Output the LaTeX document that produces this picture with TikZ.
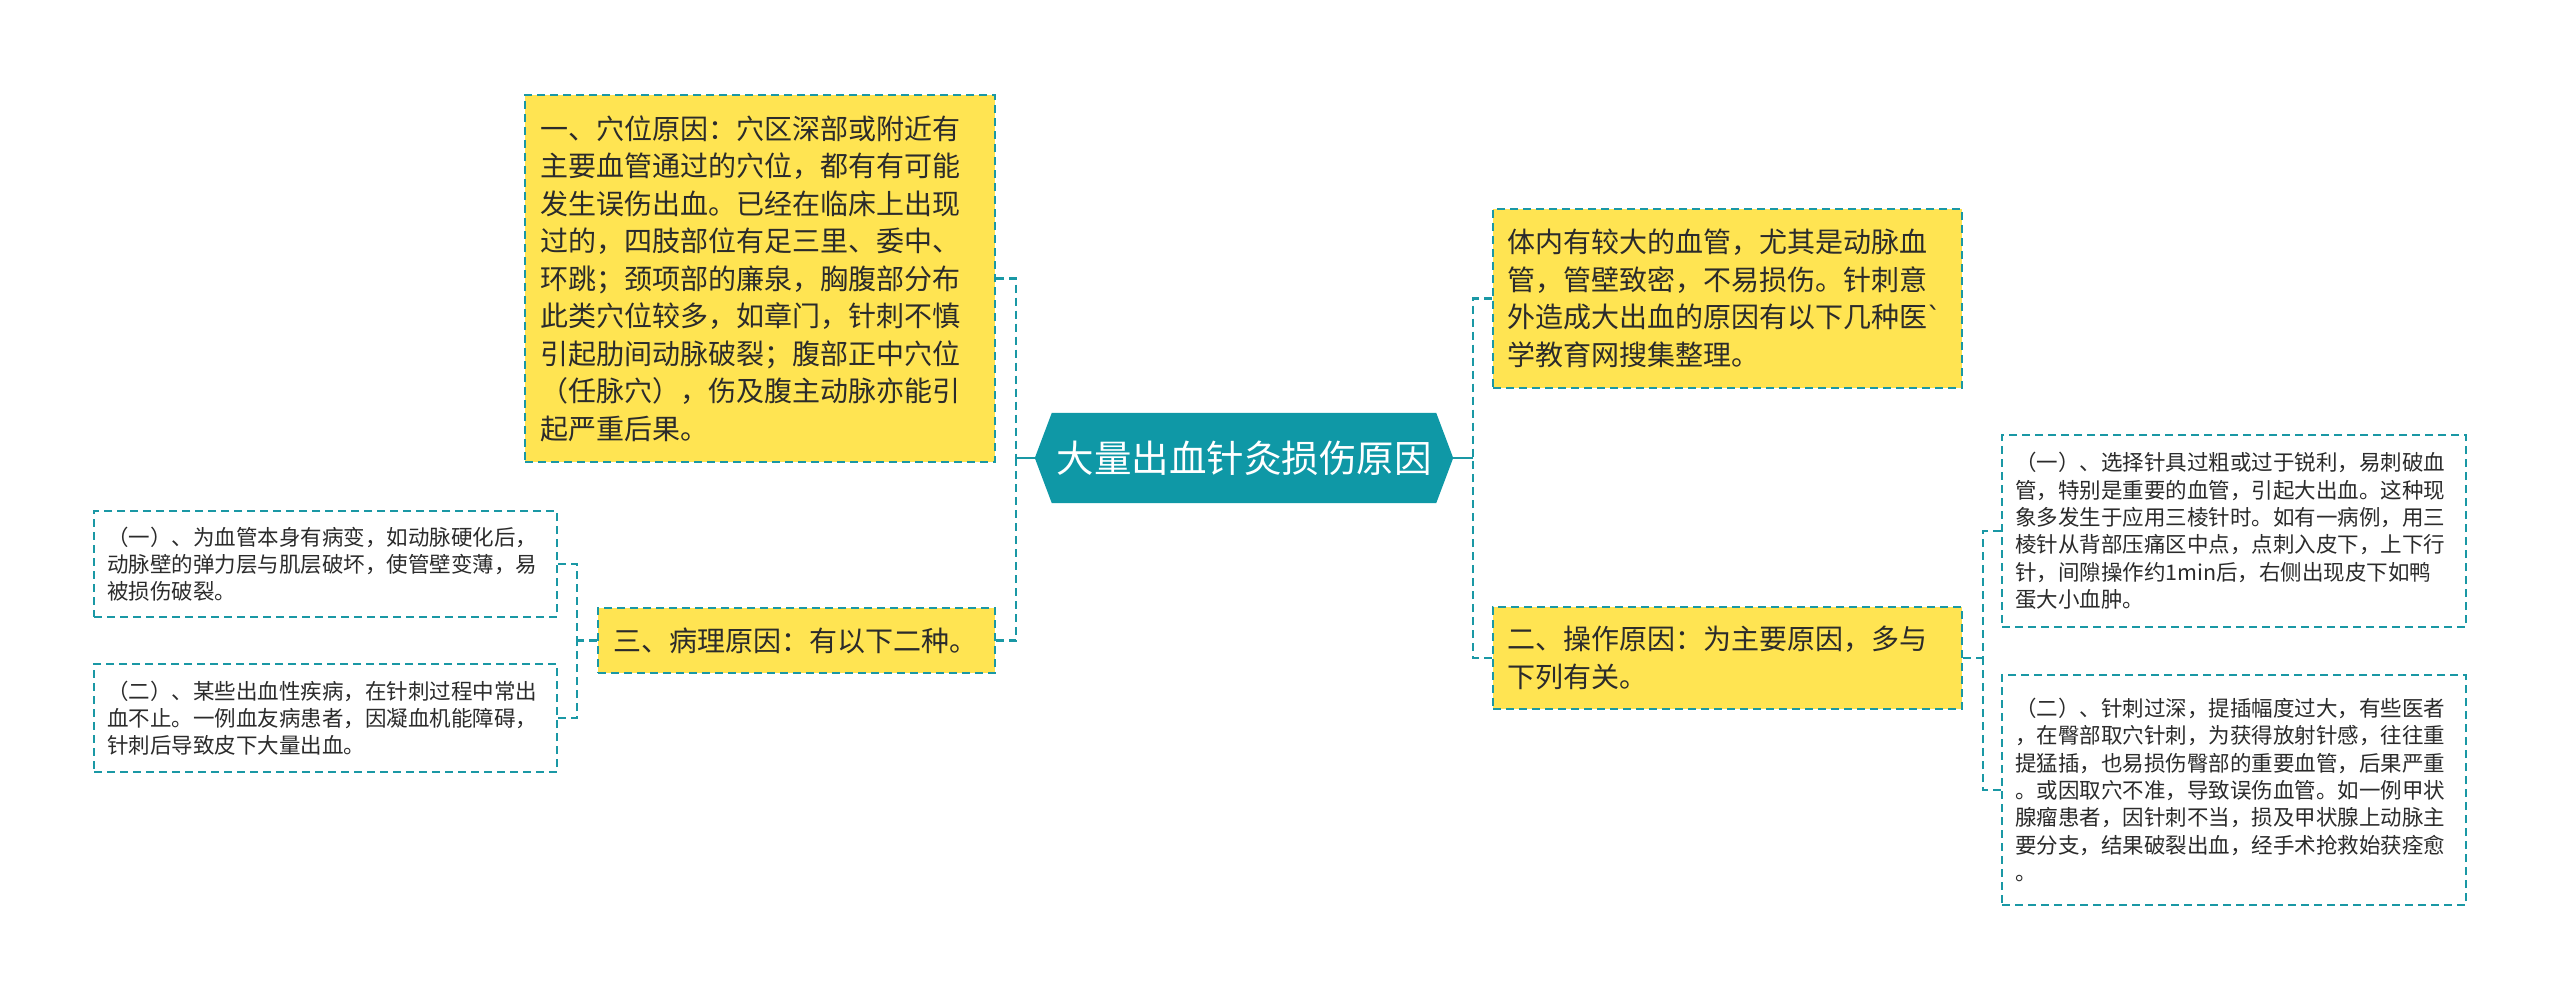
\documentclass[tikz,border=0pt]{standalone}
\usepackage{fontspec}
\setmainfont{Noto Sans CJK SC}
\newfontfamily\gravefont{DejaVu Sans}
\definecolor{teal1}{HTML}{1A98A5}
\definecolor{hexfill}{HTML}{0F98A6}
\definecolor{yel}{HTML}{FFE452}
\definecolor{txt}{HTML}{2B2B2B}
\tikzset{
  x=1pt, y=-1pt,
  conn/.style={draw=teal1, line width=2.6pt, dash pattern=on 8pt off 5pt},
  bigbox/.style={draw=teal1, line width=2pt, dash pattern=on 8pt off 5pt, fill=yel, text=txt,
    align=left, inner sep=0pt, font=\fontsize{28}{37.5}\selectfont},
  smallbox/.style={draw=teal1, line width=2pt, dash pattern=on 8pt off 5pt, fill=white, text=txt,
    align=left, inner sep=0pt, font=\fontsize{21.5}{27.3}\selectfont},
}
\begin{document}
\begin{tikzpicture}
\useasboundingbox (0,0) rectangle (2560,990);
\fill[white] (0,0) rectangle (2560,990);

% root
\node[minimum width=418pt, minimum height=90pt, inner sep=0pt] (root) at (1244,458) {};
\fill[hexfill] (root.west) -- ([xshift=17pt]root.north west) -- ([xshift=-17pt]root.north east)
  -- (root.east) -- ([xshift=-17pt]root.south east) -- ([xshift=17pt]root.south west) -- cycle;
\node[text=white, font=\fontsize{37.5}{40}\selectfont] (roottext) at (root.center) {大量出血针灸损伤原因};

% left branches
\node[bigbox, minimum width=470pt, minimum height=367pt, text width=440pt] (b1) at (760,278.5)
{一、穴位原因：穴区深部或附近有\\主要血管通过的穴位，都有有可能\\发生误伤出血。已经在临床上出现\\过的，四肢部位有足三里、委中、\\环跳；颈项部的廉泉，胸腹部分布\\此类穴位较多，如章门，针刺不慎\\引起肋间动脉破裂；腹部正中穴位\\（任脉穴），伤及腹主动脉亦能引\\起严重后果。};
\node[bigbox, minimum width=397pt, minimum height=65pt, text width=367pt] (b3) at (796.5,640.5)
{三、病理原因：有以下二种。};

\node[smallbox, minimum width=463pt, minimum height=106pt, text width=437pt] (l1) at (325.5,564)
{（一）、为血管本身有病变，如动脉硬化后，\\动脉壁的弹力层与肌层破坏，使管壁变薄，易\\被损伤破裂。};
\node[smallbox, minimum width=463pt, minimum height=108pt, text width=437pt] (l2) at (325.5,718)
{（二）、某些出血性疾病，在针刺过程中常出\\血不止。一例血友病患者，因凝血机能障碍，\\针刺后导致皮下大量出血。};

% right branches
\node[bigbox, minimum width=469pt, minimum height=179pt, text width=441pt] (r1) at (1727.5,298.5)
{体内有较大的血管，尤其是动脉血\\管，管壁致密，不易损伤。针刺意\\外造成大出血的原因有以下几种医{\gravefont\char"60}\\学教育网搜集整理。};
\node[bigbox, minimum width=469pt, minimum height=102pt, text width=441pt] (r2) at (1727.5,658)
{二、操作原因：为主要原因，多与\\下列有关。};

\node[smallbox, minimum width=464pt, minimum height=192pt, text width=438pt] (s1) at (2234,531)
{（一）、选择针具过粗或过于锐利，易刺破血\\管，特别是重要的血管，引起大出血。这种现\\象多发生于应用三棱针时。如有一病例，用三\\棱针从背部压痛区中点，点刺入皮下，上下行\\针，间隙操作约1min后，右侧出现皮下如鸭\\蛋大小血肿。};
\node[smallbox, minimum width=464pt, minimum height=230pt, text width=438pt] (s2) at (2234,790)
{（二）、针刺过深，提插幅度过大，有些医者\\，在臀部取穴针刺，为获得放射针感，往往重\\提猛插，也易损伤臀部的重要血管，后果严重\\。或因取穴不准，导致误伤血管。如一例甲状\\腺瘤患者，因针刺不当，损及甲状腺上动脉主\\要分支，结果破裂出血，经手术抢救始获痊愈\\。};

% connectors: root left
\coordinate (jl) at (1016,458);
\draw[draw=teal1, line width=2.6pt] (root.west) -- (jl);
\draw[conn] (b1.east) -| (jl);
\draw[conn] (b3.east) -| (jl);

% root right
\coordinate (jr) at (1473,458);
\draw[draw=teal1, line width=2.6pt] (root.east) -- (jr);
\draw[conn] (r1.west) -| (jr);
\draw[conn] (r2.west) -| (jr);

% r2 to s1/s2
\coordinate (jr2) at (1983,658);
\draw[conn] (r2.east) -- (jr2);
\draw[conn] (s1.west) -| (jr2);
\draw[conn] (s2.west) -| (jr2);

% b3 to l1/l2
\coordinate (jl2) at (577,640.5);
\draw[conn] (b3.west) -- (jl2);
\draw[conn] (l1.east) -| (jl2);
\draw[conn] (l2.east) -| (jl2);
\end{tikzpicture}
\end{document}
